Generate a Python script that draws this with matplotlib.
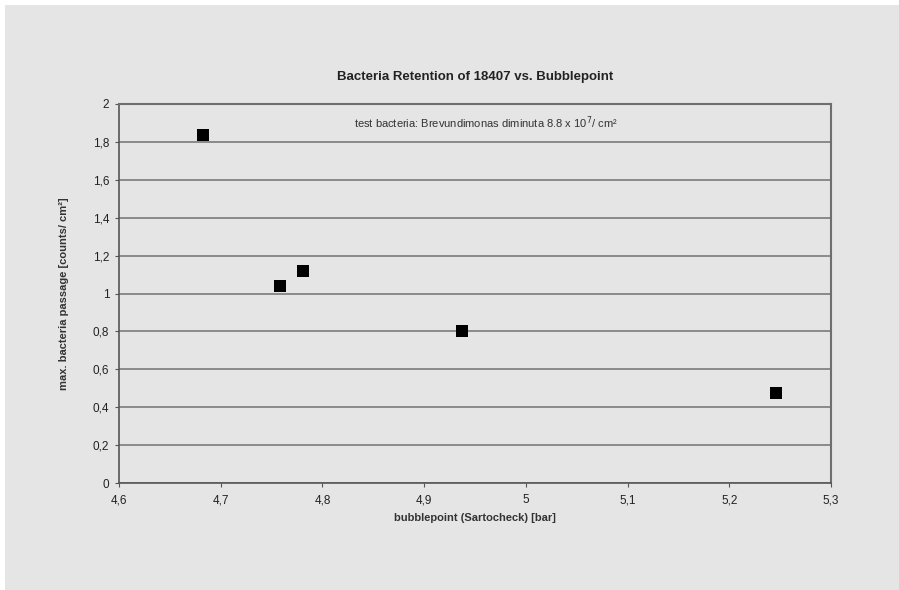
import numpy as np
import matplotlib.pyplot as plt
from matplotlib.ticker import FuncFormatter
from matplotlib.patches import Rectangle

plt.rcParams['font.family'] = ['Liberation Sans', 'DejaVu Sans']

bubblepoint = [4.683, 4.758, 4.781, 4.937, 5.246]
passage = [1.835, 1.037, 1.12, 0.802, 0.477]

x_ticks = [4.6, 4.7, 4.8, 4.9, 5.0, 5.1, 5.2, 5.3]
y_ticks = [0, 0.2, 0.4, 0.6, 0.8, 1.0, 1.2, 1.4, 1.6, 1.8, 2.0]

bg = '#e5e5e5'
W, H = 899, 590

fig = plt.figure(figsize=(W / 100, H / 100), dpi=100, facecolor='white')
# grey sheet, white strip at top and left
fig.patches.append(Rectangle((5 / W, 0), 1, 1 - 5 / H, transform=fig.transFigure,
                             facecolor=bg, edgecolor='none', zorder=-10))

left, right, top, bottom = 119, 831, 104, 483
ax = fig.add_axes([left / W, 1 - bottom / H, (right - left) / W, (bottom - top) / H])
ax.set_facecolor(bg)

ax.scatter(bubblepoint, passage, marker='s', s=75, color='black', zorder=3, linewidths=0)

ax.set_xlim(4.6, 5.3)
ax.set_ylim(0, 2)
ax.set_xticks(x_ticks)
ax.set_yticks(y_ticks)

fmt = FuncFormatter(lambda v, p: ('%g' % round(v, 2)).replace('.', ','))
ax.xaxis.set_major_formatter(fmt)
ax.yaxis.set_major_formatter(fmt)

ax.grid(axis='y', color='#727272', lw=1.1)
ax.set_axisbelow(True)
for s in ['left', 'bottom']:
    ax.spines[s].set_color('#555555')
    ax.spines[s].set_linewidth(1.2)
for s in ['top', 'right']:
    ax.spines[s].set_color('#6e6e6e')
    ax.spines[s].set_linewidth(1.5)

ax.tick_params(axis='both', direction='out', length=3, width=0.8, color='#555555',
               labelsize=8.5, labelcolor='#222222')
ax.tick_params(axis='x', pad=5)
ax.tick_params(axis='y', pad=4)

ax.set_xlabel('bubblepoint (Sartocheck) [bar]', fontsize=8, fontweight='bold',
              color='#333333', labelpad=5)
ax.set_ylabel('max. bacteria passage [counts/ cm²]', fontsize=8, fontweight='bold',
              color='#333333', labelpad=17)

fig.text((left + right) / 2 / W, 1 - 77 / H, 'Bacteria Retention of 18407 vs. Bubblepoint',
         ha='center', va='center', fontsize=9.5, fontweight='bold', color='#222222')
ax.text(0.515, 0.95, 'test bacteria: Brevundimonas diminuta 8.8 x 10$^7$/ cm²',
        transform=ax.transAxes, ha='center', va='center', fontsize=8, color='#333333')

fig.savefig('out.png', dpi=100, facecolor='white')
